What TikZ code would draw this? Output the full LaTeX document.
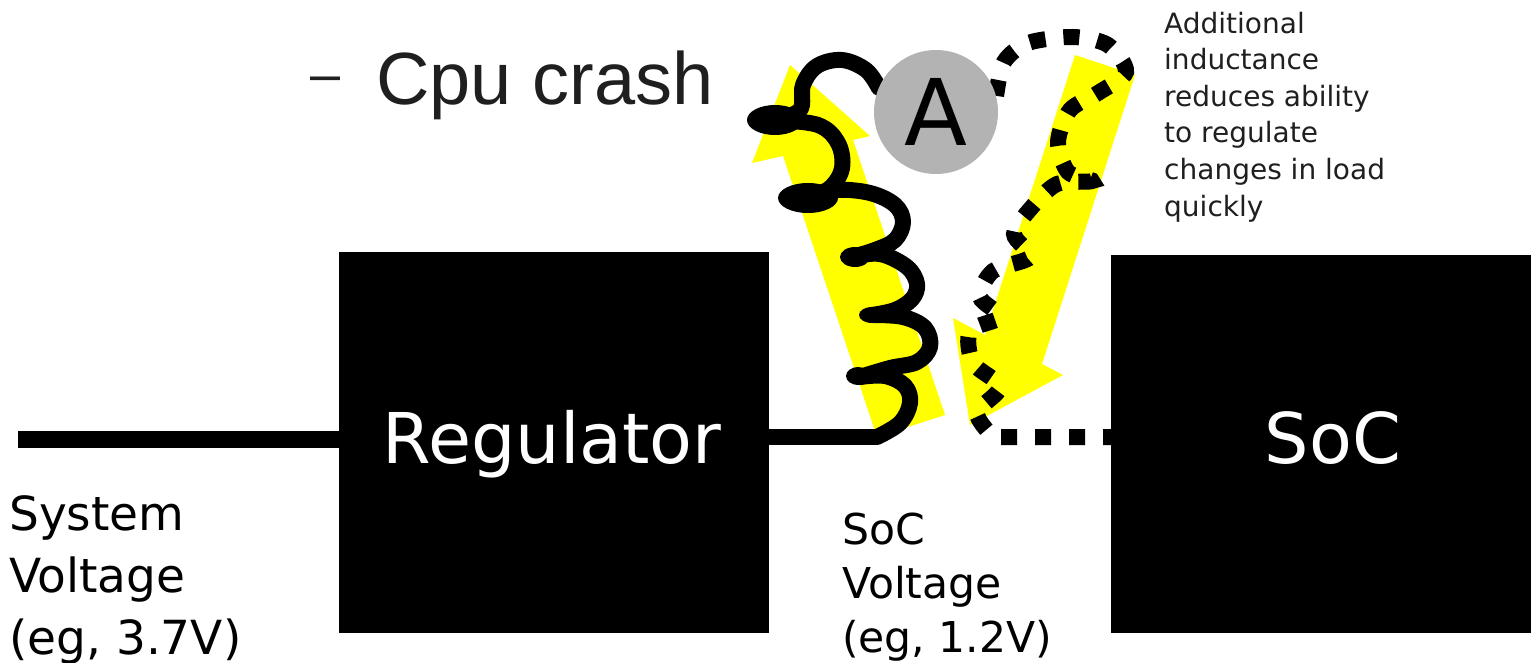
\documentclass[tikz,border=0pt]{standalone}
\usepackage{fontspec}
\setmainfont{DejaVu Sans}
\newfontfamily\libsans{Liberation Sans}
\definecolor{ylw}{HTML}{FFFF00}
\definecolor{circgray}{HTML}{B3B3B3}
\definecolor{textdark}{HTML}{1F1F1F}
\pgfdeclarelayer{arrowlayer}
\pgfdeclarelayer{wirelayer}
\pgfsetlayers{arrowlayer,wirelayer,main}
\begin{document}
\begin{tikzpicture}[x=1pt,y=-1pt,
  blockbox/.style={fill=black,inner sep=0pt,outer sep=0pt},
  wire/.style={line width=17pt},
  coilwire/.style={line width=16pt,line cap=round,line join=round},
  dotwire/.style={line width=16pt,dash pattern=on 16pt off 18pt},
  bigwhite/.style={text=white,font=\fontsize{70}{84}\selectfont,anchor=base,inner sep=0pt},
  voltlabel/.style={anchor=base west,align=left,inner sep=0pt},
  arrowfill/.style={fill=ylw,draw=none}]
\useasboundingbox (0,0) rectangle (1531,663);

% boxes
\node[blockbox,minimum width=430pt,minimum height=381pt] (reg) at (554,442.5) {};
\node[blockbox,minimum width=420pt,minimum height=378pt] (soc) at (1321,444) {};
\node[bigwhite] (reglabel) at (552,463) {Regulator};
\node[bigwhite] (soclabel) at (1333,463) {SoC};

% ammeter
\node[circle,fill=circgray,minimum size=124pt,inner sep=0pt,font=\fontsize{92}{100}\selectfont] (amm) at (936,112) {A};

\begin{pgfonlayer}{arrowlayer}
\fill[arrowfill] (877,437) -- (945,415) -- (853,140) -- (870,136) -- (790,65) -- (752,163) -- (783,156) -- cycle;
\fill[arrowfill] (1075,55) -- (1135,75) -- (1042,364) -- (1063,375) -- (970,425) -- (953,318) -- (985,335) -- cycle;
\end{pgfonlayer}

\begin{pgfonlayer}{wirelayer}
\coordinate (inleft) at (18,439.5);
\draw[wire] (inleft) -- (inleft -| reg.west);
\coordinate (jn) at (877,437);
\draw[wire,line width=16pt] (reg.east |- jn) -- (jn);
% coil
\draw[coilwire] plot[smooth,tension=0.6] coordinates {(jn) (900,423) (910,403) (905,386) (885,376) (860,377)};
\draw[coilwire] plot[smooth,tension=0.6] coordinates {(860,377) (890,368) (917,362) (930,347) (925,328) (903,317) (872,315)};
\draw[coilwire] plot[smooth,tension=0.6] coordinates {(872,315) (895,310) (912,299) (917,284) (907,267) (880,254) (852,257)};
\draw[coilwire] plot[smooth,tension=0.6] coordinates {(852,257) (875,250) (895,240) (903,222) (895,205) (870,193) (835,190) (808,198)};
\draw[coilwire] plot[smooth,tension=0.6] coordinates {(808,198) (830,188) (842,168) (838,143) (818,125) (775,120)};
\draw[coilwire] plot[smooth,tension=0.6] coordinates {(775,120) (800,110) (803,85) (817,66) (842,60) (866,70) (amm.157)};
\fill (775,120) ellipse [x radius=28pt,y radius=15pt];
\fill (808,198) ellipse [x radius=30pt,y radius=15pt];
\fill (855,257) ellipse [x radius=15pt,y radius=10pt];
\fill (872,315) ellipse [x radius=13pt,y radius=8pt];
\fill (858,376) ellipse [x radius=12pt,y radius=9pt];
% dotted return path
\coordinate (dn) at (993,437);
\draw[dotwire] plot[smooth,tension=0.5] coordinates {(amm.15) (1004,62) (1028,43) (1073,37) (1108,45) (1126,72) (1098,93) (1070,110) (1058,142) (1068,172) (1092,181) (1057,184) (1032,207) (1014,234) (1030,257) (993,271) (980,297) (1000,317) (970,331) (973,363) (1000,387) (977,413) (dn)} -- (dn -| soc.west);
\end{pgfonlayer}

% texts
\node[voltlabel,font=\fontsize{47}{62}\selectfont] (sysv) at (9,654) {System\\Voltage\\(eg, 3.7V)};
\node[voltlabel,font=\fontsize{42.5}{54}\selectfont] (socv) at (842,652) {SoC\\Voltage\\(eg, 1.2V)};
\node[voltlabel,font=\fontsize{28}{36.6}\selectfont,text=textdark] (note) at (1164,216) {Additional\\inductance\\reduces ability\\to regulate\\changes in load\\quickly};
\node[anchor=base west,inner sep=0pt,font=\libsans\fontsize{74}{88}\selectfont,text=textdark] (crash) at (376,105) {Cpu crash};
\node[anchor=base west,inner sep=0pt,font=\libsans\fontsize{54}{60}\selectfont,text=textdark] (dash) at (310,93) {–};
\end{tikzpicture}
\end{document}
